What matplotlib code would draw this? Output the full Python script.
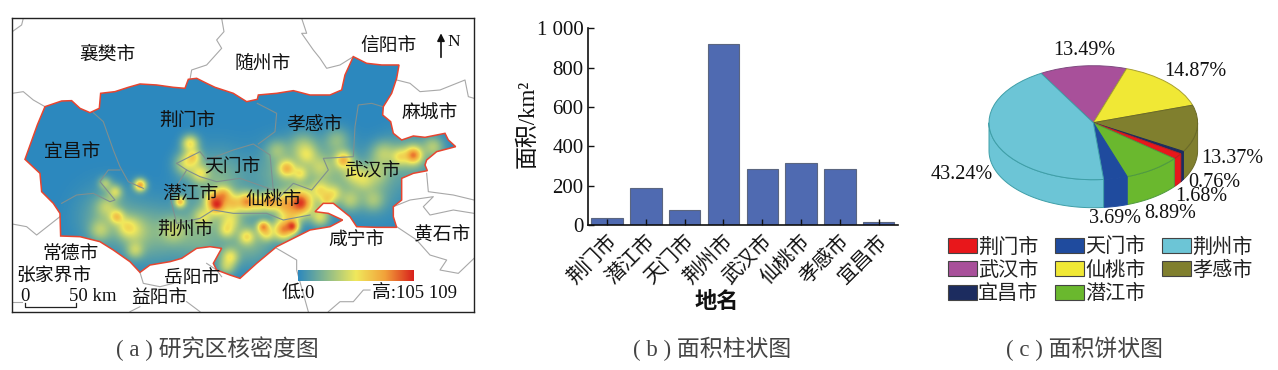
import numpy as np
import matplotlib
matplotlib.use("Agg")
import matplotlib.pyplot as plt
from matplotlib.colors import LinearSegmentedColormap
from matplotlib.patches import Polygon, Patch
from matplotlib.transforms import ScaledTranslation

plt.rcParams['font.family'] = ['Liberation Serif', 'Noto Sans CJK SC', 'DejaVu Sans']

W, H = 1278, 370
TXT = '#111111'

# ---- data ----
bar_names = ['荆门市', '潜江市', '天门市', '荆州市', '武汉市', '仙桃市', '孝感市', '宜昌市']
bar_values = [36, 189, 78, 920, 287, 317, 284, 16]
y_ticks = [0, 200, 400, 600, 800, 1000]
y_tick_labels = ['0', '200', '400', '600', '800', '1 000']

pie_names = ['武汉市', '仙桃市', '孝感市', '宜昌市', '荆门市', '潜江市', '天门市', '荆州市']
pie_values = [13.49, 14.87, 13.37, 0.76, 1.68, 8.89, 3.69, 43.24]
pie_colors = ['#A8509A', '#F0E835', '#807F2E', '#1C2C5F', '#E8171B', '#6AB82E', '#1F4B9E', '#6CC5D6']
pie_edges = ['#7f4a80', '#a8a030', '#6a6a28', '#1C2C5F', '#b82020', '#4f9a40', '#1F4B9E', '#3f9fa8']
legend_order = ['荆门市', '武汉市', '宜昌市', '天门市', '仙桃市', '潜江市', '荆州市', '孝感市']

# study-area outline and city boundaries, map units
outline_x = [75,112,135,185,215,240,270,298,302,345,385,420,470,520,555,565,590,620,645,700,740,772,775,830,880,930,990,1025,1035,1060,1100,1145,1197,1190,1175,1150,1148,1172,1180,1205,1240,1275,1310,1335,1345,1367,1310,1280,1275,1282,1240,1205,1205,1180,1180,1190,1130,1070,1050,1000,970,945,985,1028,990,930,890,830,770,720,690,650,640,665,630,590,545,510,450,420,390,340,300,240,182,180,160,125,120]
outline_y = [478,375,320,303,302,325,338,325,280,275,262,252,255,262,265,238,235,250,262,280,305,298,285,280,272,285,285,270,225,170,190,195,195,235,280,320,345,365,400,420,408,412,405,400,420,440,455,480,495,512,520,535,600,620,650,682,682,680,650,610,610,635,640,660,680,690,710,740,790,835,825,810,790,745,740,745,775,785,795,817,785,750,725,710,708,640,610,575,520]

outer_lines = [
    [(37,95),(65,75),(70,55)],
    [(37,280),(70,275),(100,300),(135,320)],
    [(665,55),(672,95),(650,120),(665,145),(620,195),(575,210),(570,238)],
    [(905,55),(920,100),(905,100),(940,150),(960,175),(980,205),(1020,195),(1060,170)],
    [(1190,240),(1230,250),(1260,275),(1320,270),(1395,240),(1405,290),(1422,295)],
    [(1280,520),(1285,575),(1360,585),(1422,600)],
    [(1180,620),(1230,600),(1300,590),(1270,620),(1290,645),(1360,630),(1422,640)],
    [(1190,680),(1250,720),(1290,765),(1340,780),(1320,810),(1375,820),(1422,775)],
    [(37,672),(80,680),(110,705),(180,650)],
    [(420,817),(430,850),(480,860),(520,850)],
    [(830,745),(890,780),(890,810),(925,935)],
    [(985,935),(1020,905),(1060,905),(1090,870),(1110,870)],
    [(37,905),(65,905)],
    [(600,935),(560,905)],
    [(620,790),(650,810),(665,830)],
    [(390,935),(420,920)],
]
inner_lines = [
    [(280,338),(310,365),(340,450),(360,500),(385,545),(430,565)],
    [(185,610),(230,585),(280,580),(330,605),(345,600),(300,545),(325,510),(360,510)],
    [(530,490),(600,455),(620,480),(700,450),(760,432),(810,465),(820,570)],
    [(772,310),(830,340),(825,395),(775,432)],
    [(520,630),(530,670),(600,655),(640,630),(700,640),(800,640),(850,660),(930,645)],
    [(520,630),(510,590),(560,510),(530,490)],
    [(560,510),(600,530),(650,545),(720,535),(820,570)],
    [(820,570),(830,600),(880,550),(935,570),(985,510),(970,475),(1060,470),(1065,380),(1075,315),(1115,310),(1148,320)],
]

# density peaks: x, y, relative height, spread
hot_x = [650,900,740,670,540,810,875,850,790,1240,420,1030,860,
         570,580,560,600,690,610,380,405,680,960,980,960,900,
         700,775,850,640,740,800,690,680,350,345,315,300,400,320,
         520,870,1000,920,1050,1120,1010,1150,1300,1200,1090,1130,830,1060,910,960,
         320,450,600,650,850,1000,1120,750,1230]
hot_y = [612,608,605,585,605,605,678,688,680,465,555,480,505,
         430,470,490,520,660,650,680,750,690,650,600,570,520,
         610,610,610,595,710,700,770,800,650,575,550,690,690,620,
         690,640,580,465,600,600,420,460,440,470,540,520,450,520,440,500,
         650,700,700,540,520,520,560,720,470]
hot_amp = [.98,.95,.74,.62,.62,.72,.92,.76,.72,.78,.72,.62,.6,
           .5,.45,.42,.4,.38,.35,.32,.3,.35,.42,.42,.42,.38,
           .5,.5,.55,.42,.42,.42,.42,.3,.52,.38,.3,.27,.27,.27,
           .27,.38,.35,.28,.27,.22,.22,.3,.3,.4,.27,.22,.22,.32,.27,.25,
           .18,.2,.22,.22,.2,.2,.15,.22,.2]
hot_sigma = [20,28,20,18,12,18,14,22,13,18,13,18,18,
             18,16,24,18,22,20,20,18,16,20,16,20,16,
             20,18,22,16,16,16,18,18,15,15,14,22,28,22,
             26,24,18,20,22,22,26,26,22,18,22,26,22,20,30,24,
             60,60,60,60,60,60,60,50,50]

map_labels = [('襄樊市',323,165),('随州市',788,193),('信阳市',1165,140),('麻城市',1290,342),
              ('荆门市',562,367),('孝感市',943,377),('宜昌市',217,458),('天门市',698,502),
              ('武汉市',1117,516),('潜江市',570,584),('仙桃市',820,601),('荆州市',555,694),
              ('咸宁市',1070,722),('黄石市',1325,707),('常德市',212,765),('张家界市',163,832),
              ('岳阳市',575,837),('益阳市',478,898)]

pie_label_pos = [('13.49%',462,152),('14.87%',795,213),('13.37%',907,475),('0.76%',853,548),
                 ('1.68%',813,590),('8.89%',720,640),('3.69%',556,657),('43.24%',95,524)]


def px_axes(l, t, r, b, **kw):
    return fig.add_axes([l / W, 1 - b / H, (r - l) / W, (b - t) / H], **kw)


fig = plt.figure(figsize=(W / 100, H / 100), dpi=100, facecolor='white')

# ---- (a) density map ----
ax = px_axes(12.3, 18.3, 474, 311.7)
ax.set_xticks([])
ax.set_yticks([])
for s in ax.spines.values():
    s.set_linewidth(1.0)
    s.set_color('#222222')

cmap = LinearSegmentedColormap.from_list('kde', ['#2C88BE', '#8DBB8A', '#F0E85C', '#F2A23A', '#D8201C'])
gx, gy = np.meshgrid(np.arange(37, 1422, 3.0), np.arange(55, 935, 3.0))
keep = np.ones_like(gx)
for x0, y0, a, s in zip(hot_x, hot_y, hot_amp, hot_sigma):
    keep *= 1 - a * np.exp(-((gx - x0) ** 2 + (gy - y0) ** 2) / (2 * s * s))
field = 1 - keep

for ln in outer_lines:
    xs, ys = zip(*ln)
    ax.plot(xs, ys, color='#A8A8A8', lw=0.8, zorder=1)

outline = Polygon(np.column_stack([outline_x, outline_y]), closed=True, fc='none', ec='#E8452F', lw=1.1, zorder=4)
ax.add_patch(outline)
im = ax.imshow(field, extent=(37, 1422, 935, 55), cmap=cmap, vmin=0, vmax=1,
               interpolation='bilinear', aspect='auto', zorder=2)
im.set_clip_path(outline)
for ln in inner_lines:
    xs, ys = zip(*ln)
    ax.plot(xs, ys, color='#7F8F90', lw=0.8, zorder=3)

for t, x, y in map_labels:
    ax.text(x, y, t, fontsize=13.5, color=TXT, ha='center', va='center', zorder=6)

ramp = np.linspace(0, 1, 256)[None, :]
ax.imshow(ramp, extent=(895, 1240, 843, 813), cmap=cmap, aspect='auto', zorder=5)
ax.set_xlim(37, 1422)
ax.set_ylim(935, 55)
ax.text(895, 881, '低:0', fontsize=13.5, ha='center', va='center', color=TXT, zorder=6)
ax.text(1243, 881, '高:105 109', fontsize=13.5, ha='center', va='center', color=TXT, zorder=6)

ax.plot([75, 75, 228, 228], [908, 922, 922, 908], color='#222222', lw=0.9, zorder=6)
ax.text(75, 888, '0', fontsize=13.5, ha='center', va='center', color=TXT, zorder=6)
ax.text(277, 888, '50 km', fontsize=13.5, ha='center', va='center', color=TXT, zorder=6)

ax.annotate('', xy=(1323, 100), xytext=(1323, 172), zorder=6,
            arrowprops=dict(arrowstyle='-|>', color='#111111', lw=1.2, mutation_scale=11, shrinkA=0, shrinkB=0))
ax.text(1360, 125, 'N', fontsize=12.5, ha='center', va='center', color=TXT, zorder=6)

# ---- (b) bar chart ----
bx = px_axes(587.7, 28.3, 898, 225)
pos = np.arange(len(bar_names))
bx.bar(pos, bar_values, width=0.81, color='#4F6AB1', edgecolor='#5b6680', linewidth=0.8)
bx.set_xlim(-0.5, 7.5)
bx.set_ylim(0, 1000)
bx.set_yticks(y_ticks)
bx.set_yticklabels(y_tick_labels, fontsize=15, color=TXT)
bx.set_xticks(pos)
bx.set_xticklabels(bar_names, rotation=45, ha='right', rotation_mode='anchor', fontsize=14.5, color=TXT)
shift = ScaledTranslation(7 / 100, 0, fig.dpi_scale_trans)
for lab in bx.get_xticklabels():
    lab.set_transform(lab.get_transform() + shift)
bx.tick_params(axis='both', direction='in', length=4, width=1.0, color='#111111', pad=3)
bx.tick_params(axis='x', pad=5)
bx.set_facecolor('none')
for s in ('top', 'right'):
    bx.spines[s].set_visible(False)
for s in ('left', 'bottom'):
    bx.spines[s].set_linewidth(1.2)
    bx.spines[s].set_color('#111111')
fig.text(528 / W, 1 - 124 / H, '面积/km²', rotation=90, fontsize=16.5, ha='center', va='center', color=TXT)
fig.text(717 / W, 1 - 303 / H, '地名', fontsize=16, ha='center', va='center', color=TXT, fontweight='bold')

# ---- (c) 3-D looking pie ----
cx, cy, rx, ry, depth = 1093.3, 122.7, 104.3, 57.0, 28.0
px = px_axes(cx - rx * 1.1, cy - ry * 1.1, cx + rx * 1.1, cy + ry * 1.6)
start = 120.0
wedges, _ = px.pie(pie_values, colors=pie_colors, startangle=start, counterclock=False,
                   radius=1.0, center=(0, 0), frame=False,
                   wedgeprops=dict(linewidth=0.7))
for w, e in zip(wedges, pie_edges):
    w.set_edgecolor(e)
    w.set_zorder(3)
px.set_aspect('auto')
px.set_xlim(-1.1, 1.1)
px.set_ylim(-1.6, 1.1)
px.axis('off')

shares = np.array(pie_values) / np.sum(pie_values) * 360.0
ends = start - np.cumsum(shares)
starts = ends + shares
drop = depth / ry
for a0, a1, c, e in zip(starts, ends, pie_colors, pie_edges):
    # keep only the front half of the rim (angles between 180 and 360 degrees)
    for lo, hi in [(-180, 0), (-540, -360)]:
        aa = max(a1, lo)
        bb = min(a0, hi)
        if bb <= aa:
            continue
        t = np.radians(np.linspace(aa, bb, 60))
        xs = np.cos(t)
        ys = np.sin(t)
        px.fill(np.r_[xs, xs[::-1]], np.r_[ys, ys[::-1] - drop], fc=c, ec=e, lw=0.7, zorder=1)

for t, x, y in pie_label_pos:
    fig.text((930 + x / 3) / W, 1 - (y / 3) / H, t, fontsize=14.5, ha='center', va='center', color=TXT)

color_of = dict(zip(pie_names, pie_colors))
handles = [Patch(fc=color_of[n], ec='#444444', lw=0.8, label=n) for n in legend_order]
fig.legend(handles=handles, loc='upper left', bbox_to_anchor=(948 / W, 1 - 238 / H), ncol=3, frameon=False,
           fontsize=14.5, handlelength=1.45, handleheight=0.75, handletextpad=0.05, columnspacing=0.82,
           labelspacing=0.2, borderpad=0, borderaxespad=0, labelcolor='#222222')

# ---- captions ----
for t, x in [('( a ) 研究区核密度图', 217), ('( b ) 面积柱状图', 712), ('( c ) 面积饼状图', 1084)]:
    fig.text(x / W, 1 - 349 / H, t, fontsize=16.5, ha='center', va='center', color='#444444')

fig.savefig('out.png', dpi=100, facecolor='white')
